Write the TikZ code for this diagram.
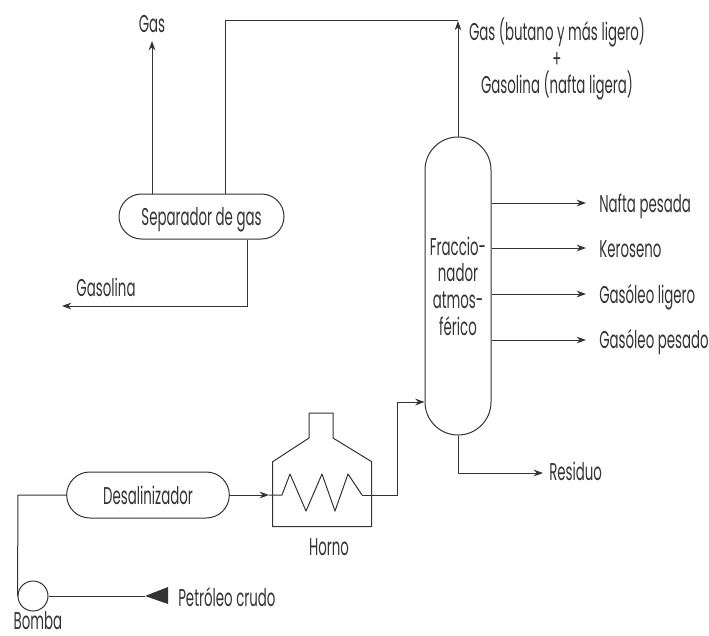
\documentclass[tikz,border=0pt]{standalone}
\usepackage{fontspec}
\setmainfont[FakeStretch=0.55]{Poppins}
\usetikzlibrary{arrows.meta}
\definecolor{ink}{HTML}{333333}
\begin{document}
\begin{tikzpicture}[
  x=0.75pt, y=-0.75pt,
  every node/.style={text=ink, font=\fontsize{18.2}{20}\selectfont, align=center, inner sep=0pt},
  unit/.style={draw=ink, line width=0.75pt, fill=white},
  arrow/.style={-{Stealth[length=7pt,width=5pt]}, line width=0.75pt, draw=ink},
  line/.style={line width=0.75pt, draw=ink},
  tag/.style={anchor=base west},
  caption/.style={anchor=base}
]
\useasboundingbox (0,0) rectangle (709,635);
\node[unit, rounded corners=24.75pt, minimum width=49.5pt, minimum height=223.5pt] (tower) at (458,286) {Fraccio-\\nador\\atmos-\\férico};
\node[unit, rounded corners=16.9pt, minimum width=123.75pt, minimum height=33.75pt, text depth=0pt] (sep) at (201.5,216.5) {Separador de gas};
\node[unit, rounded corners=17.25pt, minimum width=122pt, minimum height=34.5pt] (desal) at (148,495) {Desalinizador};
\node[unit, circle, minimum size=22.5pt] (pump) at (33,596) {};
\node[caption] (bomba) at (38,629) {Bomba};
\node[caption] (horno) at (329,555) {Horno};
\node[caption] (gas) at (152,33) {Gas};
\node[caption] (gasolina) at (106,296) {Gasolina};
\node (top) at (557,59) {Gas (butano y más ligero)\\+\\Gasolina (nafta ligera)};
\node[tag] (nafta) at (599,212) {Nafta pesada};
\node[tag] (kero) at (599,257) {Keroseno};
\node[tag] (ligero) at (599,303) {Gasóleo ligero};
\node[tag] (pesado) at (599,348) {Gasóleo pesado};
\node[tag] (residuo) at (549,480) {Residuo};
\node[tag] (crudo) at (178,606) {Petróleo crudo};
\coordinate (gasend) at (152,41);
\coordinate (feed) at (225.7,21);
\coordinate (gasoend) at (62,306);
\coordinate (gasodrop) at (247,306);
\coordinate (topend) at (458,21);
\coordinate (naftaend) at (586,203);
\coordinate (keroend) at (586,248);
\coordinate (ligeroend) at (586,294);
\coordinate (pesadoend) at (586,340);
\coordinate (resend) at (543,473);
\coordinate (coilin) at (269,495);
\coordinate (coilout) at (362,495);
\coordinate (risein) at (397,402);
\coordinate (crudotip) at (145,596);
\draw[arrow] (tower.north) -- (topend);
\draw[line] (sep.north -| feed) -- (feed) -- (topend);
\draw[arrow] (sep.north -| gasend) -- (gasend);
\draw[arrow] (sep.south -| gasodrop) -- (gasodrop) -- (gasoend);
\draw[arrow] (tower.east |- naftaend) -- (naftaend);
\draw[arrow] (tower.east |- keroend) -- (keroend);
\draw[arrow] (tower.east |- ligeroend) -- (ligeroend);
\draw[arrow] (tower.east |- pesadoend) -- (pesadoend);
\draw[arrow] (tower.south) |- (resend);
\draw[arrow] (desal.east) -- (coilin);
\draw[line, line join=round] (coilin) -- (282,495) -- (290,474) -- (306,511) -- (322,474) -- (335,511) -- (348,474) -- (coilout);
\draw[line] (272.7,461.7) -- (309,438) -- (309,413) -- (333,413) -- (333,438) -- (371.7,461.7) -- (371.7,526.7) -- (272.7,526.7) -- cycle;
\draw[arrow] (coilout) -| (risein) -- (risein -| tower.west);
\draw[line] (pump.west) -- (18,495) -- (desal.west);
\draw[line] (pump.east) -- (crudotip);
\fill[ink] (crudotip) -- (168,587) -- (168,604) -- cycle;
\end{tikzpicture}
\end{document}
